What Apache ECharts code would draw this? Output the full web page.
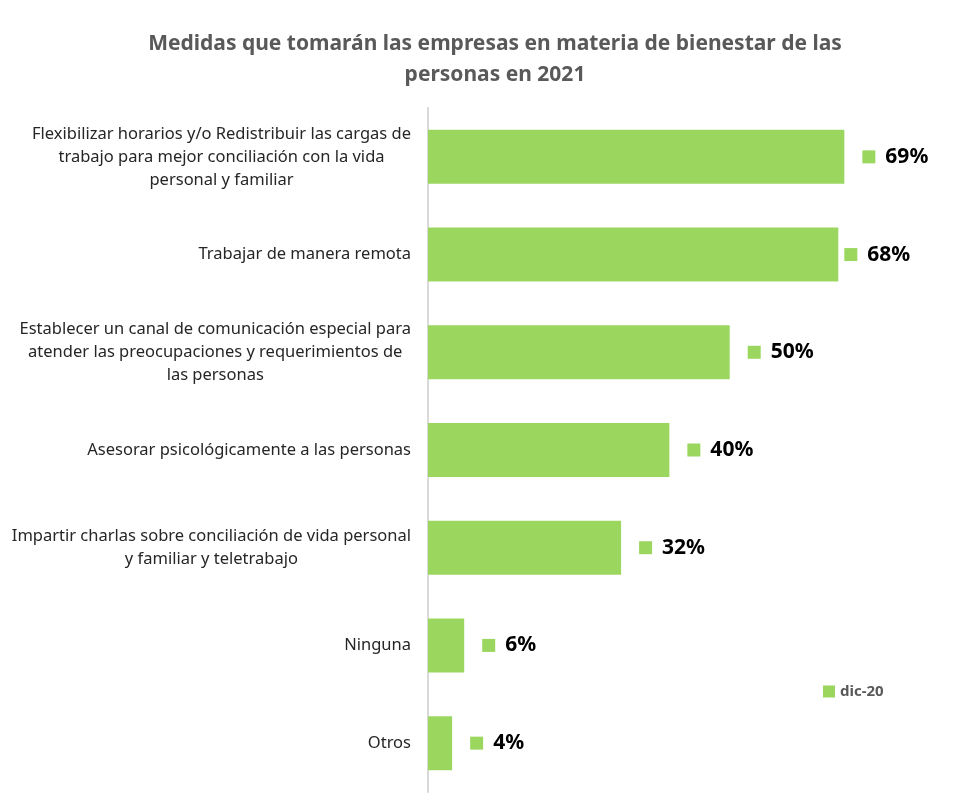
<!DOCTYPE html>
<html>
<head>
<meta charset="utf-8">
<script src="https://cdn.jsdelivr.net/npm/echarts@6/dist/echarts.min.js"></script>
<style>
  html, body { margin: 0; padding: 0; background: #fff; }
  #chart { width: 963px; height: 807px; }
</style>
</head>
<body>
<div id="chart"></div>
<script>
// categorias de arriba hacia abajo
const categorias = [
  'Flexibilizar horarios y/o Redistribuir las cargas de\ntrabajo para mejor conciliación con la vida\npersonal y familiar',
  'Trabajar de manera remota',
  'Establecer un canal de comunicación especial para\natender las preocupaciones y requerimientos de\nlas personas',
  'Asesorar psicológicamente a las personas',
  'Impartir charlas sobre conciliación de vida personal\ny familiar y teletrabajo',
  'Ninguna',
  'Otros'
]
const valores = [69, 68, 50, 40, 32, 6, 4]
const serieNombre = 'dic-20'

const verde = '#9BD75F'

let chart = echarts.init(document.getElementById('chart'))

let datos = valores.map((v, i) => {
  let item = { value: v }
  // la etiqueta de 68% va mas pegada a la barra
  if (i === 1) item.label = { distance: 6 }
  return item
})

let option = {
  title: {
    text: 'Medidas que tomarán las empresas en materia de bienestar de las\npersonas en 2021',
    left: 490,
    textAlign: 'center',
    top: 24,
    textStyle: {
      fontFamily: 'Noto Sans',
      fontSize: 21,
      fontWeight: 'bold',
      color: '#595959',
      lineHeight: 31
    }
  },
  legend: {
    data: [serieNombre],
    left: 818,
    top: 679,
    icon: 'rect',
    itemWidth: 12,
    itemHeight: 12,
    itemGap: 6,
    textStyle: {
      fontFamily: 'Noto Sans',
      fontSize: 15,
      fontWeight: 'bold',
      color: '#595959'
    }
  },
  grid: {
    left: 428,
    top: 108,
    height: 684,
    width: 531
  },
  xAxis: {
    type: 'value',
    min: 0,
    max: 88,
    show: false
  },
  yAxis: {
    type: 'category',
    data: categorias,
    inverse: true,
    axisLine: { show: true, lineStyle: { color: '#d9d9d9', width: 2 } },
    axisTick: { show: false },
    axisLabel: {
      margin: 17,
      align: 'right',
      // cada linea centrada dentro del bloque
      formatter: t => t.split('\n').map(l => '{c|' + l + '}').join('\n'),
      rich: {
        c: {
          align: 'center',
          fontFamily: 'Noto Sans',
          fontSize: 16.5,
          color: '#262626',
          lineHeight: 23
        }
      }
    }
  },
  series: [
    {
      name: serieNombre,
      type: 'bar',
      data: datos,
      barWidth: 54,
      itemStyle: { color: verde },
      label: {
        show: true,
        position: 'right',
        distance: 18,
        formatter: p => '{m| }{s| }{v|' + p.value + '%}',
        rich: {
          m: { width: 13, height: 13, backgroundColor: verde },
          s: { width: 10 },
          v: {
            fontFamily: 'Noto Sans',
            fontSize: 21,
            fontWeight: 'bold',
            color: '#000'
          }
        }
      }
    }
  ]
}

chart.setOption(option)
</script>
</body>
</html>
